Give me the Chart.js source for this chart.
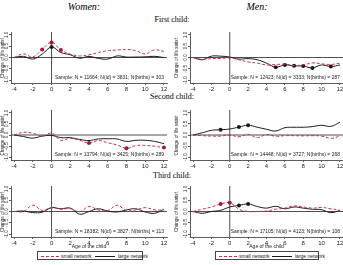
<!DOCTYPE html>
<html><head><meta charset="utf-8">
<script src="https://cdn.jsdelivr.net/npm/chart.js@4.4.1/dist/chart.umd.min.js"></script>
<style>
body{margin:0;width:343px;height:265px;background:#fff;position:relative;overflow:hidden;font-family:"Liberation Sans",Arial,sans-serif}
.t{position:absolute;white-space:nowrap;color:#000;text-align:center;line-height:1}
.serif{font-family:"Liberation Serif","Times New Roman",serif}
canvas{position:absolute}
.leg{position:absolute;border:0.8px solid #444;box-sizing:border-box;font-size:5px;color:#222}
.leg svg{position:absolute;top:0;left:0}
.leg span{position:absolute;top:1.5px;white-space:nowrap;line-height:1}
</style></head><body>
<div class="t serif" style="left:34px;width:100px;top:2px;font-size:10px;font-style:italic">Women:</div>
<div class="t serif" style="left:207px;width:100px;top:2px;font-size:10px;font-style:italic">Men:</div>
<div class="t serif" style="left:122px;width:100px;top:16px;font-size:8px">First child:</div>
<div class="t serif" style="left:122px;width:100px;top:93px;font-size:8px">Second child:</div>
<div class="t serif" style="left:122px;width:100px;top:172px;font-size:8px">Third child:</div>

<canvas id="c1"></canvas>
<canvas id="c2"></canvas>
<canvas id="c3"></canvas>
<canvas id="c4"></canvas>
<canvas id="c5"></canvas>
<canvas id="c6"></canvas>

<div class="leg" style="left:37px;top:251px;width:106px;height:9px">
<svg width="106" height="9"><line x1="3" y1="4.5" x2="21" y2="4.5" stroke="#c8324a" stroke-width="1" stroke-dasharray="3,2"/><line x1="57" y1="4.5" x2="77" y2="4.5" stroke="#1a1a1a" stroke-width="1"/></svg>
<span style="left:23px">small network</span><span style="left:80px">large network</span></div>
<div class="leg" style="left:215px;top:251px;width:104px;height:9px">
<svg width="104" height="9"><line x1="3" y1="4.5" x2="21" y2="4.5" stroke="#c8324a" stroke-width="1" stroke-dasharray="3,2"/><line x1="56" y1="4.5" x2="76" y2="4.5" stroke="#1a1a1a" stroke-width="1"/></svg>
<span style="left:23px">small network</span><span style="left:79px">large network</span></div>

<script>
// ---- data ----
const ages = [-4,-3,-2,-1,0,1,2,3,4,5,6,7,8,9,10,11,12];
const xTickValues = [-4,-2,0,2,4,6,8,10,12];
const yTickValues = [-1,-0.5,0,0.5,1];
const yTickLabels = ["-1.0","-0.5","0.0","0.5","1.0"];
const seriesNames = ["small network","large network"];

const womenFirstSmall = [0,0.16,0.03,0.36,0.67,0.33,0.15,0.07,0.12,0.22,0.30,0.33,0.36,0.30,0.16,0.34,0.27];
const womenFirstLarge = [0,0.05,-0.07,0.15,0.46,0.22,0.12,-0.03,0.05,-0.04,-0.07,0.07,0.02,0.02,0.03,0.05,0];
const womenFirstSmallSig = [-1,0,1];
const womenFirstLargeSig = [0];

const menFirstSmall = [0,-0.08,-0.05,-0.04,-0.02,-0.1,-0.2,-0.25,-0.33,-0.31,-0.3,-0.35,-0.33,-0.24,-0.28,-0.31,-0.25];
const menFirstLarge = [0,-0.1,0.06,0.06,0.02,-0.07,-0.05,-0.1,-0.25,-0.43,-0.33,-0.37,-0.38,-0.46,-0.33,-0.4,-0.33];
const menFirstSmallSig = [];
const menFirstLargeSig = [5,6,7,8,9,11];

const womenSecondSmall = [0,0.12,0.08,-0.05,0.08,-0.24,-0.15,-0.24,-0.36,-0.25,-0.35,-0.45,-0.6,-0.48,-0.47,-0.51,-0.57];
const womenSecondLarge = [0,-0.07,-0.14,-0.05,-0.02,-0.12,-0.12,-0.2,-0.25,-0.18,-0.17,-0.18,-0.29,-0.24,-0.24,-0.29,-0.39];
const womenSecondSmallSig = [4,8,12];
const womenSecondLargeSig = [];

const menSecondSmall = [0,-0.03,-0.05,-0.05,0,-0.08,0.03,-0.12,0.02,-0.06,-0.03,-0.03,-0.04,-0.03,-0.05,-0.15,-0.05];
const menSecondLarge = [0,0.1,0.21,0.24,0.27,0.36,0.44,0.35,0.26,0.18,0.33,0.35,0.35,0.38,0.44,0.39,0.58];
const menSecondSmallSig = [];
const menSecondLargeSig = [-1,1,2];

const womenThirdSmall = [0,0,0.28,0.05,0.17,0.1,0.13,-0.01,0.22,0.07,0.04,0.28,0.04,0.07,0.17,0.07,0.07];
const womenThirdLarge = [0,0.02,-0.05,-0.03,0.17,0.12,0.15,-0.12,0,0.12,0.02,-0.02,0.07,0.12,-0.02,-0.08,0.1];
const womenThirdSmallSig = [];
const womenThirdLargeSig = [];

const menThirdSmall = [0,0.1,0.2,0.33,0.39,0.1,0,0,0.02,0.1,0.15,0.25,0.2,0.15,0.18,0.12,0.05];
const menThirdLarge = [0,-0.08,0,0.05,0.2,0.27,0.33,0.22,0.15,0.23,0.12,0.2,0.15,0.1,0.08,-0.05,0.05];
const menThirdSmallSig = [-1,0];
const menThirdLargeSig = [1,2];

const samples = [
  "Sample: N = 11664; N(id) = 3831; N(births) = 303",
  "Sample: N = 12423; N(id) = 3333; N(births) = 287",
  "Sample: N = 13794; N(id) = 3425; N(births) = 289",
  "Sample: N = 14448; N(id) = 3727; N(births) = 268",
  "Sample: N = 18382; N(id) = 3827; N(births) = 113",
  "Sample: N = 17105; N(id) = 4123; N(births) = 108"
];

const RED = '#c8324a', RED_DARK = '#a3173a', BLACK = '#1a1a1a', AXIS = '#333';
const FONT = '"Liberation Sans", Arial';

const panelPlugin = {
  id: 'panel',
  beforeDatasetsDraw(chart) {
    const {ctx, chartArea: a, scales: {x, y}} = chart;
    ctx.save();
    ctx.strokeStyle = '#222'; ctx.lineWidth = 0.8;
    const y0 = y.getPixelForValue(0);
    ctx.beginPath(); ctx.moveTo(a.left, y0); ctx.lineTo(a.right, y0); ctx.stroke();
    const x0 = x.getPixelForValue(0);
    ctx.beginPath(); ctx.moveTo(x0, a.top); ctx.lineTo(x0, a.bottom); ctx.stroke();
    ctx.restore();
  },
  afterDraw(chart, args, opts) {
    const {ctx, chartArea: a, scales: {y}} = chart;
    ctx.save();
    ctx.font = '4.5px ' + FONT;
    ctx.fillStyle = '#222';
    yTickValues.forEach((v, i) => {
      const py = y.getPixelForValue(v);
      ctx.save(); ctx.translate(a.left - 4.5, py); ctx.rotate(-Math.PI / 2);
      ctx.textAlign = 'center'; ctx.textBaseline = 'middle';
      ctx.fillText(yTickLabels[i], 0, 0); ctx.restore();
    });
    ctx.font = '5px ' + FONT;
    ctx.textAlign = 'right'; ctx.textBaseline = 'middle';
    ctx.fillText(opts.sample, a.right - 3, y.getPixelForValue(-0.88));
    ctx.restore();
  }
};

function makePanel(id, rect, plot, small, large, smallSig, largeSig, sample, xTitle, yTitlePad) {
  const cv = document.getElementById(id);
  cv.style.left = rect.l + 'px'; cv.style.top = rect.t + 'px';
  cv.style.width = rect.w + 'px'; cv.style.height = rect.h + 'px';
  cv.width = rect.w; cv.height = rect.h;
  new Chart(cv, {
    type: 'line',
    data: { datasets: [
      { label: seriesNames[0], data: ages.map((a, i) => ({x: a, y: small[i]})),
        borderColor: RED, borderWidth: 1, borderDash: [3, 2], tension: 0.4,
        pointRadius: ages.map(a => smallSig.includes(a) ? 2 : 0),
        pointBackgroundColor: RED_DARK, pointBorderWidth: 0, fill: false },
      { label: seriesNames[1], data: ages.map((a, i) => ({x: a, y: large[i]})),
        borderColor: BLACK, borderWidth: 1, tension: 0.4,
        pointRadius: ages.map(a => largeSig.includes(a) ? 2 : 0),
        pointBackgroundColor: BLACK, pointBorderWidth: 0, fill: false }
    ]},
    options: {
      responsive: false, animation: false, devicePixelRatio: 1,
      layout: { autoPadding: false, padding: { left: 0, top: plot.t - rect.t, right: rect.l + rect.w - plot.r, bottom: 0 } },
      plugins: { legend: { display: false }, tooltip: { enabled: false }, panel: { sample } },
      scales: {
        x: { type: 'linear', min: -4.33, max: 12.33,
          afterBuildTicks: s => { s.ticks = xTickValues.map(v => ({value: v})); },
          afterFit: s => { s.height = rect.t + rect.h - plot.b; s.paddingLeft = 0; s.paddingRight = 0; },
          grid: { drawOnChartArea: false, tickLength: 2, color: AXIS, lineWidth: 0.8 },
          border: { color: AXIS, width: 0.8 },
          ticks: { font: { size: 6, family: FONT }, color: '#222', padding: 0.5, maxRotation: 0, autoSkip: false },
          title: { display: !!xTitle, text: xTitle || '', font: { size: 5, family: FONT }, color: '#222', padding: 0 } },
        y: { min: -1.13, max: 1.13,
          afterBuildTicks: s => { s.ticks = yTickValues.map(v => ({value: v})); },
          afterFit: s => { s.width = plot.l - rect.l; s.paddingTop = 0; s.paddingBottom = 0; },
          grid: { drawOnChartArea: false, tickLength: 2, color: AXIS, lineWidth: 0.8 },
          border: { color: AXIS, width: 0.8 },
          ticks: { display: false },
          title: { display: true, text: 'Change of life satisf.', font: { size: 4.5, family: FONT }, color: '#222', padding: { top: yTitlePad, bottom: 0 } } }
      }
    },
    plugins: [panelPlugin]
  });
}

const W = {l: 0, w: 172}, M = {l: 172, w: 171};
const rows = [{t: 32, b: 83}, {t: 110, b: 160}, {t: 186, b: 237}];
function rc(side, row, bottomEdge) { const t = row.t - 3; return {l: side.l, w: side.w, t: t, h: (bottomEdge || row.b + 9) - t}; }
const WP = {l: 11, r: 167}, MP = {l: 190, r: 343};
const AGE = 'Age of the child';

makePanel('c1', rc(W, rows[0]), {l: WP.l, r: WP.r, t: rows[0].t, b: rows[0].b}, womenFirstSmall, womenFirstLarge, womenFirstSmallSig, womenFirstLargeSig, samples[0], null, 0);
makePanel('c2', rc(M, rows[0]), {l: MP.l, r: MP.r, t: rows[0].t, b: rows[0].b}, menFirstSmall, menFirstLarge, menFirstSmallSig, menFirstLargeSig, samples[1], null, 2);
makePanel('c3', rc(W, rows[1]), {l: WP.l, r: WP.r, t: rows[1].t, b: rows[1].b}, womenSecondSmall, womenSecondLarge, womenSecondSmallSig, womenSecondLargeSig, samples[2], null, 0);
makePanel('c4', rc(M, rows[1]), {l: MP.l, r: MP.r, t: rows[1].t, b: rows[1].b}, menSecondSmall, menSecondLarge, menSecondSmallSig, menSecondLargeSig, samples[3], null, 2);
makePanel('c5', rc(W, rows[2], 250), {l: WP.l, r: WP.r, t: rows[2].t, b: rows[2].b}, womenThirdSmall, womenThirdLarge, womenThirdSmallSig, womenThirdLargeSig, samples[4], AGE, 0);
makePanel('c6', rc(M, rows[2], 250), {l: MP.l, r: MP.r, t: rows[2].t, b: rows[2].b}, menThirdSmall, menThirdLarge, menThirdSmallSig, menThirdLargeSig, samples[5], AGE, 2);
</script>
</body></html>
